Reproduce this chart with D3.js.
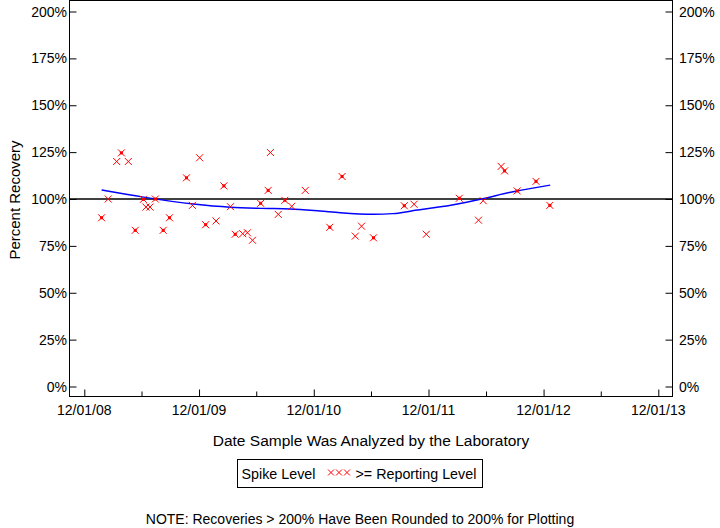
<!DOCTYPE html>
<html><head><meta charset="utf-8">
<script src="https://cdn.jsdelivr.net/npm/d3@7"></script>
<style>body{margin:0;background:#fff}svg{display:block;font-family:"Liberation Sans",Arial,sans-serif}</style>
</head><body><svg id="c" width="720" height="528"></svg>
<script>
// Data
const sampleDates = ["2009-01-25","2009-02-15","2009-03-14","2009-03-29","2009-04-20","2009-05-12","2009-06-07","2009-06-15","2009-06-28","2009-07-15","2009-08-09","2009-08-29","2009-10-22","2009-11-10","2009-12-03","2009-12-22","2010-01-24","2010-02-18","2010-03-11","2010-03-26","2010-04-19","2010-05-04","2010-05-20","2010-06-15","2010-07-09","2010-07-16","2010-08-10","2010-08-31","2010-09-22","2010-11-04","2011-01-21","2011-03-01","2011-04-12","2011-05-02","2011-06-09","2011-09-15","2011-10-16","2011-11-24","2012-03-08","2012-05-08","2012-05-23","2012-07-19","2012-07-30","2012-09-08","2012-11-07","2012-12-21"];
const recoveries = [90,100,120,124.6,120,83.3,99.8,95.7,95.7,100,83.3,90,111.3,96.6,122,86.3,88.3,107,95.9,81.2,81.5,82,78,97.7,104.6,124.8,91.8,99.3,96.1,104.6,84.9,112,80.2,85.5,79.3,96.4,97.2,81.2,100.4,88.7,99.1,117.4,115,104.3,109.4,96.6];
const centerMark = [1,0,0,1,0,1,1,0,0,1,1,1,1,0,0,1,0,1,0,1,0,0,0,1,1,0,0,1,0,0,1,1,0,0,1,1,0,0,1,0,0,0,1,1,1,1];
const trendDates = ["2009-01-25","2009-06-07","2009-11-13","2010-03-10","2010-06-13","2010-09-17","2010-12-21","2011-02-23","2011-06-08","2011-08-10","2011-10-26","2011-12-28","2012-01-28","2012-05-13","2012-08-26","2012-12-22"];
const trendValues = [104.8,101,97.3,95.6,95,94.7,93.6,92.7,91.9,92.2,94.1,95.6,96.3,99.8,103.9,107.4];
const yTicks = [0,25,50,75,100,125,150,175,200];
const xTickLabels = ["12/01/08","12/01/09","12/01/10","12/01/11","12/01/12","12/01/13"];

const parse = d3.timeParse("%Y-%m-%d");
const svg = d3.select("#c");
const L=69.5,R=672.5,T=0.5,B=396.5;
const x = d3.scaleTime().domain([parse("2008-12-01"),parse("2013-12-01")]).range([84.3,658.3]);
const y = d3.scaleLinear().domain([0,200]).range([386.5,11.5]);

// frame
svg.append("rect").attr("x",L).attr("y",T).attr("width",R-L).attr("height",B-T).attr("fill","none").attr("stroke","#000").attr("stroke-width",1);

// y axes (ticks inward)
const yl = svg.append("g").attr("transform",`translate(${L},0)`).call(d3.axisRight(y).tickValues(yTicks).tickSize(7).tickFormat(""));
yl.select(".domain").remove();
const yr = svg.append("g").attr("transform",`translate(${R},0)`).call(d3.axisLeft(y).tickValues(yTicks).tickSize(7).tickFormat(""));
yr.select(".domain").remove();
svg.selectAll(".tick line").attr("stroke","#000");
yTicks.forEach(v=>{
  svg.append("text").attr("x",L-2.5).attr("y",y(v)+5).attr("text-anchor","end").attr("font-size",14).text(v+"%");
  svg.append("text").attr("x",R+6.5).attr("y",y(v)+5).attr("text-anchor","start").attr("font-size",14).text(v+"%");
});

// x axis
const majors = xTickLabels.map(s=>d3.timeParse("%m/%d/%y")(s));
const minors = majors.slice(0,5).map(d=>d3.timeMonth.offset(d,6));
const xa = svg.append("g").attr("transform",`translate(0,${B})`).call(d3.axisTop(x).tickValues(majors).tickSize(7).tickFormat(""));
xa.select(".domain").remove();
const xm = svg.append("g").attr("transform",`translate(0,${B})`).call(d3.axisTop(x).tickValues(minors).tickSize(5).tickFormat(""));
xm.select(".domain").remove();
svg.selectAll(".tick line").attr("stroke","#000");
majors.forEach((d,i)=>{
  svg.append("text").attr("x",x(d)).attr("y",415).attr("text-anchor","middle").attr("font-size",14).text(xTickLabels[i]);
});

// 100% reference line
svg.append("line").attr("x1",L).attr("x2",R).attr("y1",y(100)).attr("y2",y(100)).attr("stroke","#000").attr("stroke-width",1.3);

// trend
const tdata = trendDates.map((d,i)=>[parse(d),trendValues[i]]);
svg.append("path").datum(tdata).attr("fill","none").attr("stroke","#0000ff").attr("stroke-width",1.5)
  .attr("d",d3.line().x(d=>x(d[0])).y(d=>y(d[1])).curve(d3.curveMonotoneX));

// points
const pts = sampleDates.map((d,i)=>({x:x(parse(d)),y:y(recoveries[i]),c:centerMark[i]}));
const g = svg.append("g");
const s=3.5;
pts.forEach(p=>{
  g.append("path").attr("d",`M${p.x-s},${p.y-s}L${p.x+s},${p.y+s}M${p.x-s},${p.y+s}L${p.x+s},${p.y-s}`).attr("stroke","#ff0000").attr("stroke-width",1).attr("fill","none");
  if(p.c) g.append("rect").attr("x",p.x-1.5).attr("y",p.y-1.5).attr("width",3).attr("height",3).attr("fill","#ff0000");
});

// titles
svg.append("text").attr("transform","translate(20,200) rotate(-90)").attr("text-anchor","middle").attr("font-size",15).text("Percent Recovery");
svg.append("text").attr("x",371).attr("y",446).attr("text-anchor","middle").attr("font-size",15.5).text("Date Sample Was Analyzed by the Laboratory");

// legend
svg.append("rect").attr("x",237.5).attr("y",459.5).attr("width",245).attr("height",28).attr("fill","none").attr("stroke","#000");
svg.append("text").attr("x",241.5).attr("y",479).attr("font-size",14.3).text("Spike Level");
[331,339,347].forEach(cx=>{
  const cy=472.5,r=3;
  svg.append("path").attr("d",`M${cx-r},${cy-r}L${cx+r},${cy+r}M${cx-r},${cy+r}L${cx+r},${cy-r}`).attr("stroke","#ff0000").attr("stroke-width",1);
});
svg.append("text").attr("x",355.5).attr("y",479).attr("font-size",14.3).text(">= Reporting Level");

svg.append("text").attr("x",360).attr("y",524).attr("text-anchor","middle").attr("font-size",14).text("NOTE: Recoveries > 200% Have Been Rounded to 200% for Plotting");
</script></body></html>
